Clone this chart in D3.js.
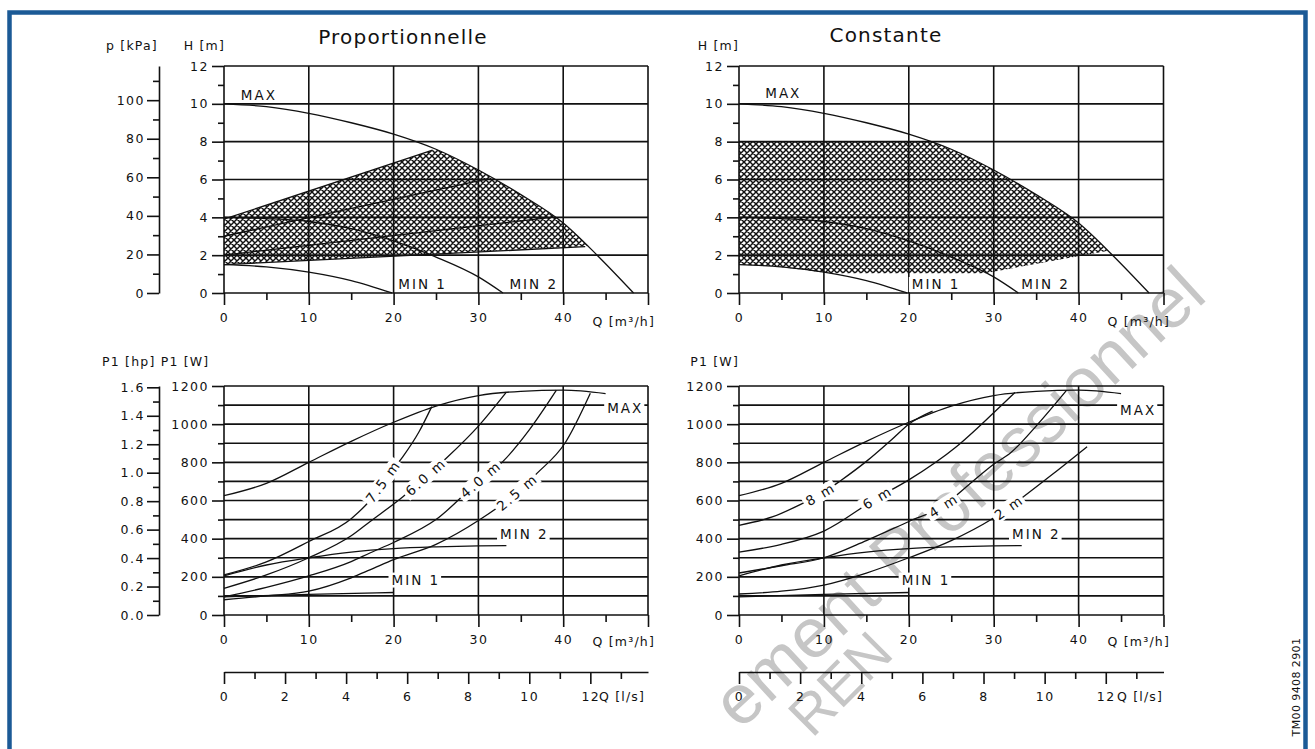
<!DOCTYPE html>
<html>
<head>
<meta charset="utf-8">
<script src="https://cdn.jsdelivr.net/npm/d3@7"></script>
<style>
  body { margin: 0; background: #fff; }
  text { font-family: "DejaVu Sans", sans-serif; fill: #111; }
  .tick text { font-size: 12.5px; letter-spacing: 1.5px; }
  .tick line, .domain { stroke: #111; stroke-width: 1.6; }
  .grid line { stroke: #111; stroke-width: 1.6; }
  .curve { fill: none; stroke: #111; stroke-width: 1.3; }
  .lbl { font-size: 13.5px; letter-spacing: 2px; }
  .ttl { font-size: 12.5px; letter-spacing: 1.2px; }
  .wm { font-family: "Liberation Sans", sans-serif; fill: #c6c6c6; }
</style>
</head>
<body>
<svg width="1315" height="749"></svg>
<script>
const svg = d3.select('svg');

// ---------- axes values ----------
const qGrid = [0, 10, 20, 30, 40, 50];
const qLabels = [0, 10, 20, 30, 40, 50];
const qMinor = [5, 15, 25, 35, 45];
const hGrid = [0, 2, 4, 6, 8, 10, 12];
const hMinor = [1, 3, 5, 7, 9, 11];
const kpaTicks = [0, 20, 40, 60, 80, 100];
const kpaMinor = [10, 30, 50, 70, 90, 110];
const wGrid = [0, 100, 200, 300, 400, 500, 600, 700, 800, 900, 1000, 1100, 1200];
const wLabels = [0, 200, 400, 600, 800, 1000, 1200];
const wMinor = [100, 300, 500, 700, 900, 1100];
const hpTicks = [0, 0.2, 0.4, 0.6, 0.8, 1.0, 1.2, 1.4, 1.6];
const hpMinor = [0.1, 0.3, 0.5, 0.7, 0.9, 1.1, 1.3, 1.5];
const lsLabels = [0, 2, 4, 6, 8, 10, 12];
const lsMinor = [1, 3, 5, 7, 9, 11, 13];

// ---------- head curves [Q m3/h, H m] ----------
const maxHead = [[0, 10], [5, 9.85], [10, 9.5], [15, 9.0], [20, 8.4], [25, 7.6], [30, 6.5], [35, 5.2], [40, 3.7], [44, 2.0], [48.3, 0]];
const min1Head = [[0, 1.5], [5, 1.38], [10, 1.1], [15, 0.65], [19.8, 0]];
const min2Head = [[0, 4], [5, 3.93], [10, 3.78], [15, 3.4], [20, 2.75], [25, 1.9], [30, 0.85], [32.9, 0]];

// proportional pressure lines
const prop75 = [[0, 3.9], [24.6, 7.55]];
const prop60 = [[0, 3.0], [31.2, 6.05]];
const prop40 = [[0, 2.0], [38.6, 4.0]];
const prop25 = [[0, 1.5], [42.6, 2.45]];
const propHatchTop = [[0, 3.9], [48, 11]];
const propHatchBottom = [[0, 1.5], [48, 2.6]];

// constant pressure area
const constHatchTop = [[0, 8], [48, 8]];
const constHatchBottom = [[0, 1.5], [4, 1.42], [8, 1.2], [10.5, 1.04], [29, 1.05], [48, 2.6]];

// ---------- power curves [Q m3/h, P1 W] ----------
const maxPower = [[0, 625], [5, 690], [10, 800], [15, 910], [20, 1010], [25, 1095], [30, 1150], [35, 1172], [40, 1178], [45, 1160]];
const min1Power = [[0, 95], [10, 108], [20, 118]];
const min2Power = [[0, 205], [5, 262], [10, 300], [15, 330], [20, 348], [25, 357], [30, 362], [33.3, 364]];

const pow75 = [[0, 210], [5, 278], [10, 385], [15, 505], [17.2, 600], [19, 715], [21.1, 830], [23, 960], [24.5, 1092]];
const pow60 = [[0, 140], [5, 210], [10, 300], [15, 415], [17.2, 489], [21.1, 620], [23.7, 720], [26.3, 825], [30, 990], [33.3, 1168]];
const pow40 = [[0, 95], [5, 145], [10, 205], [15, 280], [17.2, 325], [20, 380], [25, 500], [30, 700], [32.9, 805], [36, 970], [39.2, 1178]];
const pow25 = [[0, 80], [5, 100], [10, 125], [15, 195], [17.2, 236], [20, 290], [25, 370], [30, 495], [34.5, 640], [36.9, 742], [40.2, 900], [43.2, 1162]];

const pow8 = [[0, 470], [4, 515], [7.5, 585], [9.5, 630], [12, 705], [15, 805], [18, 920], [20, 1000], [22.8, 1068]];
const pow6 = [[0, 330], [5, 370], [10, 440], [16.2, 612], [20, 708], [25.6, 882], [30, 1060], [32.5, 1166]];
const pow4 = [[0, 220], [5, 258], [10, 300], [15, 390], [20, 490], [24, 570], [27, 680], [30, 790], [32, 850], [35, 990], [38.6, 1178]];
const pow2 = [[0, 110], [5, 125], [10, 157], [15, 220], [20, 300], [25, 390], [29.6, 498], [31.7, 560], [33.5, 620], [37, 740], [41, 882]];

// curve labels: [text, Q where it sits]
const propPowLabels = [['7.5 m', 18.7], ['6.0 m', 23.7], ['4.0 m', 30.2], ['2.5 m', 34.5]];
const constPowLabels = [['8 m', 9.5], ['6 m', 16.2], ['4 m', 24], ['2 m', 31.7]];
// MIN / MAX tags: [text, Q, value]
const propHeadTags = [['MAX', 4.0, 10.47], ['MIN 1', 23.3, 0.48], ['MIN 2', 36.4, 0.48]];
const constHeadTags = [['MAX', 5.1, 10.54], ['MIN 1', 23.1, 0.45], ['MIN 2', 36.0, 0.45]];
const propPowTags = [['MAX', 47.2, 1085], ['MIN 1', 22.5, 183], ['MIN 2', 35.3, 425]];
const constPowTags = [['MAX', 46.9, 1074], ['MIN 1', 21.9, 183], ['MIN 2', 34.9, 425]];

// ---------- scales ----------
const xLeft = d3.scaleLinear().domain([0, 50]).range([224, 648]);
const xRight = d3.scaleLinear().domain([0, 50]).range([739, 1163.5]);
const yHead = d3.scaleLinear().domain([0, 12]).range([293, 66]);
const yKpa = d3.scaleLinear().domain([0, 12 * 9.81]).range([293, 66]);
const yPow = d3.scaleLinear().domain([0, 1200]).range([615, 386]);
const yHp = d3.scaleLinear().domain([0, 1200 / 745.7]).range([615, 386]);
const lsLeft = d3.scaleLinear().domain([0, 50 / 3.6]).range([224, 648]);
const lsRight = d3.scaleLinear().domain([0, 50 / 3.6]).range([739, 1163.5]);

// watermark, behind everything
svg.append('text').attr('class', 'wm').text('ement Professionnel')
  .attr('transform', 'translate(740,731) rotate(-42.7)')
  .style('font-size', '70px');
svg.append('text').attr('class', 'wm').text('REN')
  .attr('transform', 'translate(812,739) rotate(-45)')
  .style('font-size', '56px');

// hatch pattern
const defs = svg.append('defs');
defs.append('pattern')
    .attr('id', 'hatch')
    .attr('patternUnits', 'userSpaceOnUse')
    .attr('width', 6).attr('height', 6)
  .append('path')
    .attr('d', 'M-1,-1L7,7M-1,7L7,-1M5,-1L7,1M-1,5L1,7M-1,1L1,-1M5,7L7,5')
    .attr('stroke', '#111')
    .attr('stroke-width', 1.45);

const lineFor = (x, y) => d3.line().x(d => x(d[0])).y(d => y(d[1])).curve(d3.curveMonotoneX);

function hatchArea(id, x, top, bottom) {
  // clip to the area under the MAX curve
  const area = d3.area().x(d => x(d[0])).y0(yHead(0)).y1(d => yHead(d[1])).curve(d3.curveMonotoneX);
  defs.append('clipPath').attr('id', id).append('path').attr('d', area(maxHead));
  const pts = top.concat(bottom.slice().reverse()).map(d => [x(d[0]), yHead(d[1])]);
  svg.append('path')
    .attr('d', d3.line()(pts) + 'Z')
    .attr('fill', 'url(#hatch)')
    .attr('clip-path', `url(#${id})`);
}

function grid(x, y, qs, vs) {
  const g = svg.append('g').attr('class', 'grid');
  g.selectAll('line.v').data(qs).join('line').attr('class', 'v')
    .attr('x1', d => x(d)).attr('x2', d => x(d))
    .attr('y1', y.range()[0]).attr('y2', y.range()[1]);
  g.selectAll('line.h').data(vs).join('line').attr('class', 'h')
    .attr('x1', x.range()[0]).attr('x2', x.range()[1])
    .attr('y1', d => y(d)).attr('y2', d => y(d));
}

function leftAxis(xPos, scale, major, minor, fmt, pad, keepDomain) {
  const g = svg.append('g').attr('transform', `translate(${xPos},0)`)
    .call(d3.axisLeft(scale).tickValues(major).tickFormat(fmt)
      .tickSize(12).tickSizeOuter(0).tickPadding(pad));
  if (!keepDomain) g.select('.domain').remove();
  const m = svg.append('g').attr('transform', `translate(${xPos},0)`)
    .call(d3.axisLeft(scale).tickValues(minor).tickFormat('').tickSize(6));
  m.select('.domain').remove();
}

function bottomAxis(yPos, scale, major, minor, fmt, keepDomain) {
  const g = svg.append('g').attr('transform', `translate(0,${yPos})`)
    .call(d3.axisBottom(scale).tickValues(major).tickFormat(fmt)
      .tickSize(12).tickSizeOuter(0).tickPadding(8));
  if (!keepDomain) g.select('.domain').remove();
  const m = svg.append('g').attr('transform', `translate(0,${yPos})`)
    .call(d3.axisBottom(scale).tickValues(minor).tickFormat('').tickSize(7));
  m.select('.domain').remove();
}

function curves(x, y, list) {
  list.forEach(c => {
    svg.append('path').attr('class', 'curve').attr('d', lineFor(x, y)(c));
  });
}

function interp(c, q) {
  for (let i = 0; i < c.length - 1; i++) {
    if (q >= c[i][0] && q <= c[i + 1][0]) {
      const t = (q - c[i][0]) / (c[i + 1][0] - c[i][0]);
      return c[i][1] + t * (c[i + 1][1] - c[i][1]);
    }
  }
  return c[c.length - 1][1];
}

function tag(px, py, txt, angle) {
  const g = svg.append('g').attr('transform', `translate(${px},${py}) rotate(${angle || 0})`);
  const r = g.append('rect').attr('fill', '#fff');
  const t = g.append('text').attr('class', 'lbl').attr('text-anchor', 'middle')
    .attr('dy', '0.36em').attr('dx', 1).text(txt);
  const w = t.node().getComputedTextLength();
  r.attr('x', -w / 2 - 2).attr('y', -7.5).attr('width', w + 4).attr('height', 15);
}

function curveLabels(x, y, list, cs) {
  list.forEach((d, i) => {
    const c = cs[i];
    const q = d[1];
    const a = [x(q - 1), y(interp(c, q - 1))];
    const b = [x(q + 1), y(interp(c, q + 1))];
    const ang = Math.atan2(b[1] - a[1], b[0] - a[0]) * 180 / Math.PI;
    tag(x(q), y(interp(c, q)), d[0], ang);
  });
}

const fmt0 = d => d === 50 ? '' : d;

// ================= top left : Proportionnelle =================
hatchArea('clipL', xLeft, propHatchTop, propHatchBottom);
grid(xLeft, yHead, qGrid, hGrid);
leftAxis(224, yHead, hGrid, hMinor, d3.format('d'), 3, false);
leftAxis(159, yKpa, kpaTicks, kpaMinor, d3.format('d'), 2, true);
bottomAxis(293, xLeft, qLabels, qMinor, fmt0, false);
curves(xLeft, yHead, [maxHead, min1Head, min2Head, prop75, prop60, prop40, prop25]);
propHeadTags.forEach(d => tag(xLeft(d[1]), yHead(d[2]), d[0]));

// ================= top right : Constante =================
hatchArea('clipR', xRight, constHatchTop, constHatchBottom);
grid(xRight, yHead, qGrid, hGrid);
leftAxis(739, yHead, hGrid, hMinor, d3.format('d'), 3, false);
bottomAxis(293, xRight, qLabels, qMinor, fmt0, false);
curves(xRight, yHead, [maxHead, min1Head, min2Head]);
constHeadTags.forEach(d => tag(xRight(d[1]), yHead(d[2]), d[0]));

// ================= bottom left : power, proportional =================
grid(xLeft, yPow, qGrid, wGrid);
leftAxis(224, yPow, wLabels, wMinor, d3.format('d'), 3, false);
leftAxis(159, yHp, hpTicks, hpMinor, d3.format('.1f'), 2, true);
bottomAxis(615, xLeft, qLabels, qMinor, fmt0, false);
curves(xLeft, yPow, [maxPower, min1Power, min2Power, pow75, pow60, pow40, pow25]);
curveLabels(xLeft, yPow, propPowLabels, [pow75, pow60, pow40, pow25]);
propPowTags.forEach(d => tag(xLeft(d[1]), yPow(d[2]), d[0]));

// ================= bottom right : power, constant =================
grid(xRight, yPow, qGrid, wGrid);
leftAxis(739, yPow, wLabels, wMinor, d3.format('d'), 3, false);
bottomAxis(615, xRight, qLabels, qMinor, fmt0, false);
curves(xRight, yPow, [maxPower, min1Power, min2Power, pow8, pow6, pow4, pow2]);
curveLabels(xRight, yPow, constPowLabels, [pow8, pow6, pow4, pow2]);
constPowTags.forEach(d => tag(xRight(d[1]), yPow(d[2]), d[0]));

// ================= l/s axes =================
bottomAxis(672, lsLeft, lsLabels, lsMinor, d3.format('d'), true);
bottomAxis(672, lsRight, lsLabels, lsMinor, d3.format('d'), true);

// ================= titles and units =================
const ttl = (x, y, s, anchor) => svg.append('text').attr('class', 'ttl')
  .attr('x', x).attr('y', y).attr('text-anchor', anchor || 'start').text(s);

svg.append('text').attr('x', 403).attr('y', 44).attr('text-anchor', 'middle')
  .style('font-size', '20px').style('letter-spacing', '1.2px').text('Proportionnelle');
svg.append('text').attr('x', 886).attr('y', 42).attr('text-anchor', 'middle')
  .style('font-size', '20px').style('letter-spacing', '1.2px').text('Constante');

ttl(106, 50, 'p [kPa]');
ttl(225, 50, 'H [m]', 'end');
ttl(739, 50, 'H [m]', 'end');
ttl(102, 366, 'P1 [hp] P1 [W]');
ttl(739, 366, 'P1 [W]', 'end');
ttl(655, 326, 'Q [m³/h]', 'end');
ttl(1170, 326, 'Q [m³/h]', 'end');
ttl(655, 646, 'Q [m³/h]', 'end');
ttl(1170, 646, 'Q [m³/h]', 'end');
ttl(599, 701, 'Q [l/s]');
ttl(1117, 701, 'Q [l/s]');

svg.append('text').attr('transform', 'translate(1300,687) rotate(-90)')
  .attr('text-anchor', 'middle').style('font-size', '11px').style('letter-spacing', '0.4px')
  .text('TM00 9408 2901');

// blue frame
svg.append('rect')
  .attr('x', 9.5).attr('y', 12.5).attr('width', 1296).attr('height', 800)
  .attr('fill', 'none').attr('stroke', '#1b5a96').attr('stroke-width', 4.5);
</script>
</body>
</html>
